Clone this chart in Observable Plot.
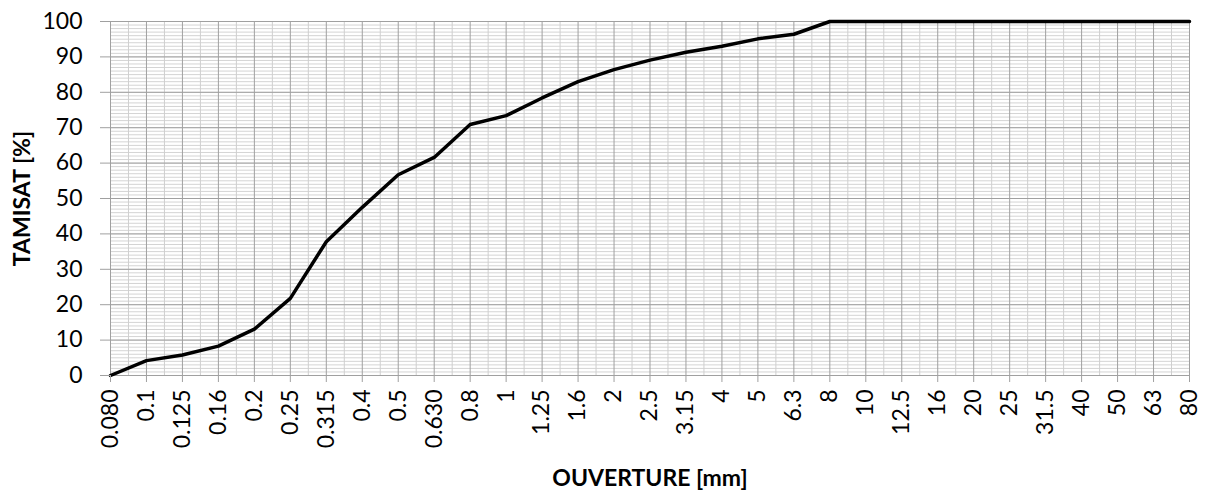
<!DOCTYPE html>
<html>
<head>
<meta charset="utf-8">
<script src="https://cdn.jsdelivr.net/npm/d3@7"></script>
<script src="https://cdn.jsdelivr.net/npm/@observablehq/plot@0.6"></script>
<style>
  html, body { margin: 0; padding: 0; background: #fff; }
  #chart svg { display: block; }
</style>
</head>
<body>
<div id="chart"></div>
<script>
// Sieve openings (mm), equally spaced categories
const sizes = ["0.080","0.1","0.125","0.16","0.2","0.25","0.315","0.4","0.5","0.630","0.8","1","1.25","1.6","2","2.5","3.15","4","5","6.3","8","10","12.5","16","20","25","31.5","40","50","63","80"];
// Passing percentage (tamisat %)
const passing = [0,4.2,5.8,8.3,13.1,21.8,37.8,47.5,56.7,61.6,70.9,73.4,78.4,83.0,86.4,89.1,91.3,93.0,95.1,96.4,100,100,100,100,100,100,100,100,100,100,100];
const yTicks = [0,10,20,30,40,50,60,70,80,90,100];
const xTitle = "OUVERTURE [mm]";
const yTitle = "TAMISAT [%]";

const idx = sizes.map((_, i) => i);
const mids = idx.slice(0, -1).map(i => i + 0.5);
const minorY = d3.range(0, 101);

const chart = Plot.plot({
  width: 1209,
  height: 493,
  marginLeft: 110,
  marginRight: 20,
  marginTop: 21,
  marginBottom: 118,
  style: { fontFamily: "Lato, 'Open Sans', sans-serif", fontSize: "23px", color: "#000", background: "#fff" },
  x: { type: "linear", domain: [0, sizes.length - 1] },
  y: { domain: [0, 100] },
  marks: [
    Plot.ruleY(minorY, { stroke: "#d4d4d4", strokeWidth: 1 }),
    Plot.ruleX(mids, { stroke: "#cfcfcf", strokeWidth: 1 }),
    Plot.ruleY(yTicks, { stroke: "#a0a0a0", strokeWidth: 1 }),
    Plot.ruleX(idx, { stroke: "#a0a0a0", strokeWidth: 1 }),
    Plot.line(passing, { x: (d, i) => i, y: d => d, stroke: "#000", strokeWidth: 3.5, strokeLinejoin: "round" }),
    Plot.axisX({ ticks: idx, tickFormat: i => sizes[i], tickRotate: -90, tickSize: 7, tickPadding: 7, stroke: "#a0a0a0", fill: "#000", label: null, fontSize: 23 }),
    Plot.axisY({ ticks: yTicks, tickSize: 10, tickPadding: 18, stroke: "#a0a0a0", fill: "#000", label: null, fontSize: 23 }),
    Plot.text([xTitle], { frameAnchor: "bottom", lineAnchor: "middle", textAnchor: "middle", dy: 103, fontWeight: "bold", fontSize: 23, fill: "#000" }),
    Plot.text([yTitle], { frameAnchor: "left", lineAnchor: "middle", textAnchor: "middle", dx: -88, rotate: -90, fontWeight: "bold", fontSize: 23, fill: "#000" })
  ]
});
document.getElementById("chart").appendChild(chart);
</script>
</body>
</html>
